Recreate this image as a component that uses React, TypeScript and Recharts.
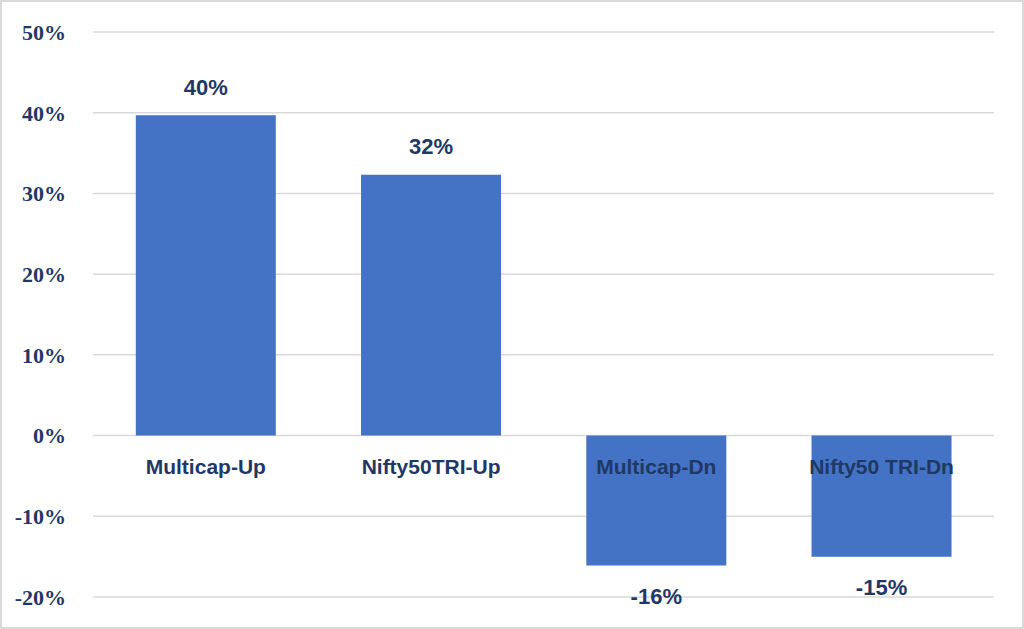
import { BarChart, Bar, YAxis, XAxis, CartesianGrid, LabelList } from 'recharts'

const categories = ['Multicap-Up', 'Nifty50TRI-Up', 'Multicap-Dn', 'Nifty50 TRI-Dn']
const returns = [39.7, 32.3, -16.1, -15.0]
const valueLabels = ['40%', '32%', '-16%', '-15%']
const yTicks = [-20, -10, 0, 10, 20, 30, 40, 50]

const NAVY = '#1F3864'
const SANS = '"Liberation Sans", Arial, sans-serif'

const data = categories.map((name, i) => ({
  name,
  value: returns[i],
  label: valueLabels[i],
}))

function BarLabels(props: any) {
  const { x, y, width, height, index } = props
  const top = Math.min(y, y + height)
  const bottom = Math.max(y, y + height)
  const positive = returns[index] >= 0
  const zero = positive ? bottom : top
  const cx = x + width / 2
  const valueY = positive ? top - 28 : bottom + 31
  return (
    <g>
      <text
        x={cx} y={zero + 31} textAnchor="middle" dominantBaseline="central"
        fill={NAVY} fontFamily={SANS} fontWeight="bold" fontSize={21}
      >
        {categories[index]}
      </text>
      <text
        x={cx} y={valueY} textAnchor="middle" dominantBaseline="central"
        fill={NAVY} fontFamily={SANS} fontWeight="bold" fontSize={22}
      >
        {valueLabels[index]}
      </text>
    </g>
  )
}

export default function App() {
  return (
    <div style={{ position: 'absolute', left: 0, top: 0, width: 1024, height: 629, background: '#fff' }}>
      <BarChart
        width={1024}
        height={629}
        data={data}
        margin={{ top: 32, right: 30, bottom: 32, left: 0 }}
        barCategoryGap="19%"
      >
        <CartesianGrid horizontal vertical={false} stroke="#D9D9D9" strokeWidth={1.5} />
        <XAxis dataKey="name" hide />
        <YAxis
          width={93}
          domain={[-20, 50]}
          ticks={yTicks}
          interval={0}
          axisLine={false}
          tickLine={false}
          tickSize={0}
          tickMargin={27}
          tickFormatter={(v: number) => `${v}%`}
          tick={{ fill: NAVY, fontSize: 22, fontWeight: 'bold', fontFamily: '"Liberation Serif", "Times New Roman", serif' }}
        />
        <Bar dataKey="value" fill="#4472C4" isAnimationActive={false}>
          <LabelList dataKey="label" content={BarLabels} />
        </Bar>
      </BarChart>
      <div
        style={{
          position: 'absolute', left: 0, top: 0, width: 1024, height: 629,
          boxSizing: 'border-box', border: '2px solid #D9D9D9', pointerEvents: 'none',
        }}
      />
    </div>
  )
}
